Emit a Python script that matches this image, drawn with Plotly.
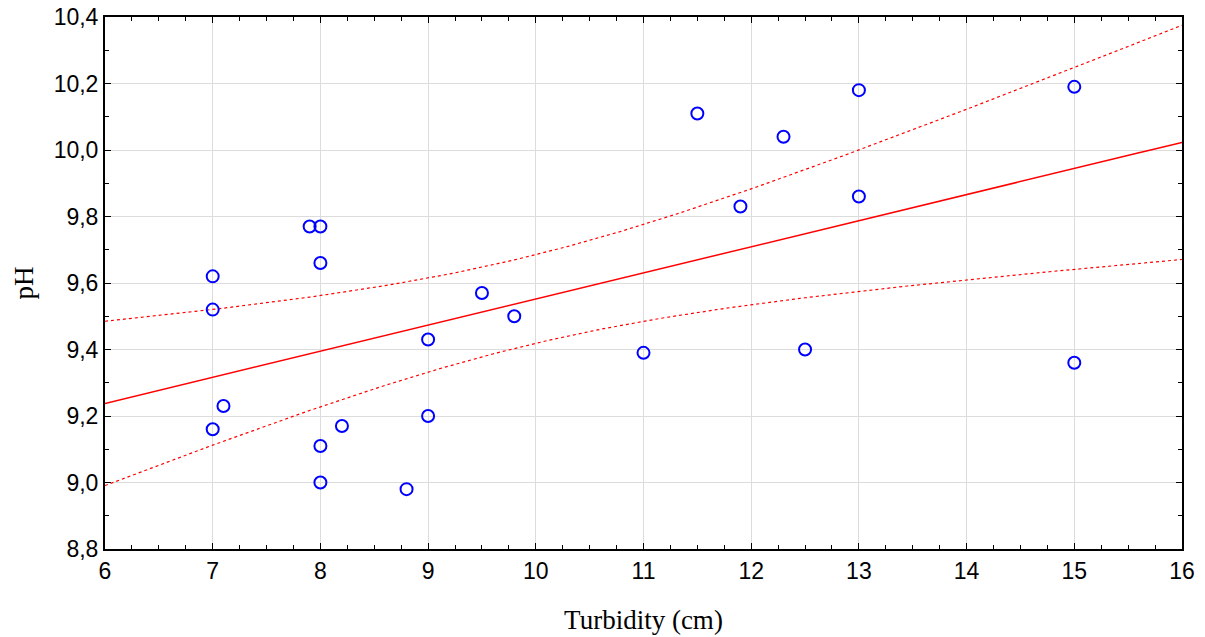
import numpy as np
import plotly.graph_objects as go

# Turbidity (cm) and pH observations
turbidity = [7.0, 7.0, 7.0, 7.1, 7.9, 8.0, 8.0, 8.0, 8.0, 8.2, 8.8, 9.0, 9.0, 9.5, 9.8,
             11.0, 11.5, 11.9, 12.3, 12.5, 13.0, 13.0, 15.0, 15.0]
ph = [9.62, 9.52, 9.16, 9.23, 9.77, 9.77, 9.66, 9.11, 9.00, 9.17, 8.98, 9.43, 9.20, 9.57, 9.50,
      9.39, 10.11, 9.83, 10.04, 9.40, 10.18, 9.86, 10.19, 9.36]

x = np.array(turbidity)
y = np.array(ph)
n = len(x)

# Least-squares line with 95% confidence band for the mean
slope, intercept = np.polyfit(x, y, 1)
resid = y - (intercept + slope * x)
s = np.sqrt(np.sum(resid ** 2) / (n - 2))
sxx = np.sum((x - x.mean()) ** 2)
t_crit = 2.0739  # t(0.975, 22)

xf = np.linspace(6, 16, 201)
yf = intercept + slope * xf
half = t_crit * s * np.sqrt(1 / n + (xf - x.mean()) ** 2 / sxx)

fig = go.Figure()
fig.add_trace(go.Scatter(x=xf, y=yf + half, mode="lines",
                         line=dict(color="red", width=1.2, dash="3px,3px"), hoverinfo="skip"))
fig.add_trace(go.Scatter(x=xf, y=yf - half, mode="lines",
                         line=dict(color="red", width=1.2, dash="3px,3px"), hoverinfo="skip"))
fig.add_trace(go.Scatter(x=xf, y=yf, mode="lines",
                         line=dict(color="red", width=1.5), hoverinfo="skip"))
fig.add_trace(go.Scatter(x=turbidity, y=ph, mode="markers",
                         marker=dict(symbol="circle-open", size=12, color="blue",
                                     line=dict(width=2, color="blue"))))

tickfont = dict(family="Liberation Sans, Arial", size=23, color="black")
titlefont = dict(family="Liberation Serif, Times New Roman", size=27, color="black")

fig.update_xaxes(range=[6, 16], tick0=6, dtick=1, showline=True, linecolor="black", linewidth=2,
                 mirror="allticks", ticks="inside", ticklen=6, tickcolor="black",
                 showgrid=True, gridcolor="#dcdcdc", gridwidth=1, zeroline=False, automargin=False,
                 tickfont=tickfont, title=dict(text="Turbidity (cm)", font=titlefont, standoff=28),
                 minor=dict(dtick=0.25, ticks="inside", ticklen=4, tickcolor="black", showgrid=False))
fig.update_yaxes(range=[8.8, 10.4], tick0=8.8, dtick=0.2, showline=True, linecolor="black", linewidth=2,
                 mirror="allticks", ticks="inside", ticklen=6, tickcolor="black",
                 showgrid=True, gridcolor="#dcdcdc", gridwidth=1, zeroline=False, automargin=False,
                 tickformat=".1f", tickfont=tickfont,
                 title=dict(text="pH", font=titlefont, standoff=12),
                 minor=dict(dtick=0.1, ticks="inside", ticklen=4, tickcolor="black", showgrid=False))

fig.update_layout(width=1205, height=637, margin=dict(l=105, r=23, t=17, b=88),
                  paper_bgcolor="white", plot_bgcolor="white", showlegend=False,
                  separators=",.")

fig.write_html("out.html")
